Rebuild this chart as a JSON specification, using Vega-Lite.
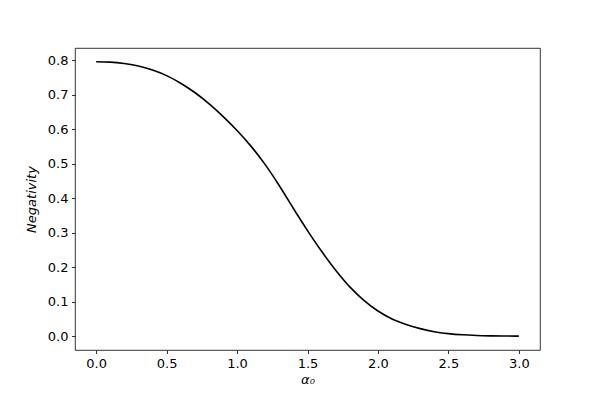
{
  "$schema": "https://vega.github.io/schema/vega-lite/v6.json",
  "width": 465,
  "height": 302,
  "autosize": {"type": "none"},
  "padding": {"left": 75, "top": 48, "right": 60, "bottom": 50},
  "background": "white",
  "config": {
    "view": {"stroke": "#000000", "strokeWidth": 0.8},
    "font": "DejaVu Sans",
    "axis": {
      "domain": false,
      "grid": false,
      "tickColor": "#000000",
      "tickSize": 3.5,
      "tickWidth": 0.8,
      "labelFont": "DejaVu Sans",
      "labelFontSize": 13,
      "labelColor": "#000000",
      "labelPadding": 3.5,
      "titleFont": "DejaVu Sans",
      "titleFontSize": 13,
      "titleColor": "#000000",
      "titleFontWeight": "normal"
    }
  },
  "data": {
    "values": [
      {"a": 0.0, "n": 0.795},
      {"a": 0.1, "n": 0.794},
      {"a": 0.2, "n": 0.790},
      {"a": 0.3, "n": 0.783},
      {"a": 0.4, "n": 0.771},
      {"a": 0.5, "n": 0.755},
      {"a": 0.6, "n": 0.733},
      {"a": 0.7, "n": 0.706},
      {"a": 0.8, "n": 0.674},
      {"a": 0.9, "n": 0.637},
      {"a": 1.0, "n": 0.596},
      {"a": 1.1, "n": 0.550},
      {"a": 1.2, "n": 0.497},
      {"a": 1.3, "n": 0.436},
      {"a": 1.4, "n": 0.370},
      {"a": 1.5, "n": 0.306},
      {"a": 1.6, "n": 0.246},
      {"a": 1.7, "n": 0.191},
      {"a": 1.8, "n": 0.143},
      {"a": 1.9, "n": 0.104},
      {"a": 2.0, "n": 0.073},
      {"a": 2.1, "n": 0.050},
      {"a": 2.2, "n": 0.034},
      {"a": 2.3, "n": 0.022},
      {"a": 2.4, "n": 0.013},
      {"a": 2.5, "n": 0.0075},
      {"a": 2.6, "n": 0.004},
      {"a": 2.7, "n": 0.002},
      {"a": 2.8, "n": 0.001},
      {"a": 2.9, "n": 0.0005},
      {"a": 3.0, "n": 0.0002}
    ]
  },
  "mark": {"type": "line", "color": "#000000", "strokeWidth": 1.6, "interpolate": "monotone"},
  "encoding": {
    "x": {
      "field": "a",
      "type": "quantitative",
      "scale": {"domain": [-0.15, 3.15], "nice": false, "zero": false},
      "axis": {
        "values": [0, 0.5, 1, 1.5, 2, 2.5, 3],
        "format": ".1f",
        "title": "α₀",
        "titleFontStyle": "italic",
        "titlePadding": 3
      }
    },
    "y": {
      "field": "n",
      "type": "quantitative",
      "scale": {"domain": [-0.04, 0.835], "nice": false, "zero": false},
      "axis": {
        "values": [0, 0.1, 0.2, 0.3, 0.4, 0.5, 0.6, 0.7, 0.8],
        "format": ".1f",
        "title": "Negativity",
        "titleFontStyle": "italic",
        "titlePadding": 9
      }
    }
  }
}
